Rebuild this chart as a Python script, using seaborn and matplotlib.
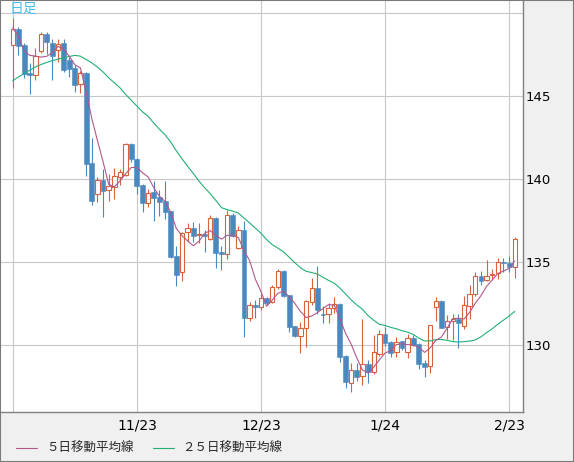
import numpy as np
import pandas as pd
import seaborn as sns
import matplotlib
matplotlib.use("Agg")
import matplotlib.pyplot as plt
from matplotlib.lines import Line2D
from matplotlib.patches import Rectangle

# daily candles, 10/24 .. 2/24
opens = [148.06, 149.04, 148.07, 146.41, 146.25, 147.69, 148.74, 148.19, 147.77, 148.21,
         147.17, 146.67, 145.73, 146.41, 140.95, 139.09, 139.95, 139.33, 139.55, 140.15,
         140.25, 142.12, 141.19, 139.65, 138.58, 139.25, 138.91, 138.70, 138.08, 135.37,
         134.43, 136.80, 137.04, 136.62, 136.70, 136.40, 137.64, 135.63, 135.48, 137.84,
         135.87, 136.94, 131.66, 132.43, 132.32, 132.86, 132.59, 133.49, 134.49, 133.03,
         131.16, 130.56, 131.02, 132.63, 133.43, 131.88, 131.87, 132.23, 132.49, 129.36,
         127.71, 128.51, 128.15, 128.87, 128.41, 129.48, 130.68, 130.22, 129.58, 130.24,
         129.58, 130.42, 130.08, 128.92, 128.75, 132.32, 132.68, 131.08, 131.48, 131.57,
         131.16, 132.37, 133.09, 134.17, 133.93, 134.25, 134.37, 135.04, 134.98, 134.69]
highs = [149.68, 149.14, 148.20, 146.97, 147.88, 148.84, 148.84, 148.44, 148.42, 148.44,
         147.37, 146.87, 146.53, 146.45, 142.46, 140.15, 140.59, 140.29, 140.70, 140.59,
         142.19, 142.19, 141.25, 139.70, 139.39, 139.89, 139.35, 139.89, 138.10, 135.98,
         136.84, 137.38, 137.44, 137.34, 136.94, 137.84, 137.70, 135.96, 138.14, 137.94,
         137.18, 137.50, 132.62, 132.73, 133.07, 132.90, 133.63, 134.57, 134.52, 133.05,
         131.18, 131.42, 132.73, 134.03, 134.77, 132.37, 132.53, 132.89, 132.52, 129.40,
         128.92, 128.95, 131.56, 129.11, 130.62, 130.92, 131.12, 130.25, 130.52, 130.28,
         130.68, 130.62, 130.16, 129.11, 131.22, 132.89, 132.73, 131.82, 131.87, 131.88,
         132.97, 133.63, 134.39, 134.49, 135.14, 134.57, 135.24, 135.24, 135.38, 136.52]
lows = [145.47, 147.47, 146.10, 145.10, 145.97, 147.57, 147.51, 145.99, 147.07, 146.47,
        146.13, 145.26, 145.17, 140.21, 138.44, 138.64, 137.70, 138.70, 138.80, 139.65,
        140.19, 141.05, 139.11, 138.04, 138.34, 137.50, 137.78, 137.58, 135.24, 133.59,
        133.89, 136.20, 136.24, 136.14, 135.63, 136.34, 134.63, 134.56, 135.19, 136.54,
        135.78, 130.52, 131.46, 131.63, 132.12, 132.40, 132.53, 133.37, 132.93, 130.82,
        130.52, 129.52, 129.92, 132.43, 131.87, 131.32, 131.32, 131.96, 129.01, 127.45,
        127.21, 127.87, 127.61, 127.75, 128.27, 129.36, 129.96, 129.28, 129.28, 129.72,
        129.25, 129.96, 128.55, 128.07, 128.32, 131.48, 131.02, 130.36, 130.32, 129.82,
        130.98, 131.56, 132.97, 133.63, 133.89, 133.97, 133.97, 134.43, 134.43, 134.08]
closes = [149.02, 148.03, 146.30, 146.25, 147.43, 148.72, 148.24, 147.41, 148.15, 146.57,
          146.63, 145.68, 146.41, 140.91, 138.70, 139.95, 139.29, 139.59, 140.19, 140.41,
          142.12, 141.19, 139.61, 138.58, 139.15, 138.88, 138.64, 138.04, 135.33, 134.23,
          136.78, 137.04, 136.58, 136.68, 136.58, 137.64, 135.57, 135.48, 137.84, 136.58,
          136.94, 131.66, 132.43, 132.32, 132.83, 132.53, 133.49, 134.49, 132.97, 131.12,
          130.56, 131.06, 132.67, 133.43, 132.12, 131.82, 132.23, 132.47, 129.31, 127.81,
          128.51, 128.11, 128.86, 128.41, 129.61, 130.66, 130.16, 129.56, 130.22, 129.86,
          130.42, 130.02, 128.87, 128.71, 131.22, 132.67, 131.06, 131.46, 131.61, 131.36,
          132.43, 133.09, 134.17, 133.89, 134.17, 134.31, 135.04, 134.94, 134.69, 136.42]

# moving average values at the left edge (earlier days are off-chart)
ma5_head = [149.10, 148.60, 147.70, 147.45]
ma25_head = [145.93, 146.15, 146.35, 146.55, 146.75, 146.90, 147.02, 147.13, 147.22, 147.30,
             147.38, 147.45, 147.40, 147.20, 147.00, 146.75, 146.45, 146.10, 145.80, 145.50,
             145.10, 144.75, 144.40, 144.05]

tick_pos = [22, 44, 66, 88]
tick_labels = ["11/23", "12/23", "1/24", "2/23"]

df = pd.DataFrame({"open": opens, "high": highs, "low": lows, "close": closes})
df["i"] = np.arange(len(df))
ma5 = df["close"].rolling(5).mean()
ma5.iloc[:4] = ma5_head
ma25 = df["close"].rolling(25).mean()
ma25.iloc[:24] = ma25_head
df["ma5"] = ma5
df["ma25"] = ma25

up_col = "#d9613e"
down_col = "#4a88c0"
ma5_col = "#b0588b"
ma25_col = "#22b074"

sns.set_style("white")
plt.rcParams["font.family"] = ["DejaVu Sans", "Noto Sans CJK JP"]

fig = plt.figure(figsize=(5.74, 4.62), dpi=100, facecolor="#f0f0f0")
ax = fig.add_axes([0.0, 50 / 462, 523 / 574, 412 / 462])
ax.set_facecolor("white")

# grid
for g in [0] + tick_pos:
    ax.axvline(g, color="#c8c8c8", lw=0.8, zorder=0)
for g in [130, 135, 140, 145, 150]:
    ax.axhline(g, color="#c8c8c8", lw=0.8, zorder=0)

# candles
is_up = df["close"] >= df["open"]
wick_cols = [up_col if u else down_col for u in is_up]
ax.vlines(df["i"], df["low"], df["high"], colors=wick_cols, lw=0.8, zorder=2)
body_bot = np.minimum(df["open"], df["close"])
body_h = np.maximum((df["close"] - df["open"]).abs(), 0.06)
ax.bar(df["i"][is_up], body_h[is_up], bottom=body_bot[is_up], width=0.78,
       color="white", edgecolor=up_col, lw=0.8, zorder=3)
ax.bar(df["i"][~is_up], body_h[~is_up], bottom=body_bot[~is_up], width=0.86,
       color=down_col, edgecolor=down_col, lw=0.4, zorder=3)

# moving averages
sns.lineplot(data=df, x="i", y="ma25", color=ma25_col, lw=0.8, ax=ax, zorder=4)
sns.lineplot(data=df, x="i", y="ma5", color=ma5_col, lw=0.8, ax=ax, zorder=5)

ax.set_xlim(-2.27, 90.46)
ax.set_ylim(125.99, 150.78)
ax.set_xticks(tick_pos)
ax.set_xticklabels(tick_labels, fontsize=10, color="black")
ax.set_yticks([130, 135, 140, 145, 150])
ax.set_yticklabels(["130", "135", "140", "145", ""], fontsize=9.5, color="black")
ax.yaxis.tick_right()
ax.tick_params(axis="both", length=0)
ax.tick_params(axis="x", pad=5)
ax.tick_params(axis="y", pad=2)
ax.set_xlabel("")
ax.set_ylabel("")
for s in ["top", "left"]:
    ax.spines[s].set_visible(False)
for s in ["right", "bottom"]:
    ax.spines[s].set_color("#808080")
    ax.spines[s].set_linewidth(1.0)

fig.text(10 / 574, 1 - 2 / 462, "日足", color="#45bdee", fontsize=10, va="top", ha="left",
         family=["Noto Sans CJK JP", "DejaVu Sans"])

# legend row
ly = 1 - 448 / 462
fig.add_artist(Line2D([16 / 574, 37 / 574], [ly, ly], color=ma5_col, lw=0.8))
fig.text(46 / 574, ly, "５日移動平均線", fontsize=9, va="center", ha="left",
         family=["Noto Sans CJK JP", "DejaVu Sans"])
fig.add_artist(Line2D([153 / 574, 174 / 574], [ly, ly], color=ma25_col, lw=0.8))
fig.text(182 / 574, ly, "２５日移動平均線", fontsize=9, va="center", ha="left",
         family=["Noto Sans CJK JP", "DejaVu Sans"])

# outer frame
fig.patches.append(Rectangle((0, 0), 1, 1, transform=fig.transFigure, fill=False,
                             edgecolor="#7a7a7a", lw=1.5))

fig.savefig("out.png", dpi=100, facecolor=fig.get_facecolor())
